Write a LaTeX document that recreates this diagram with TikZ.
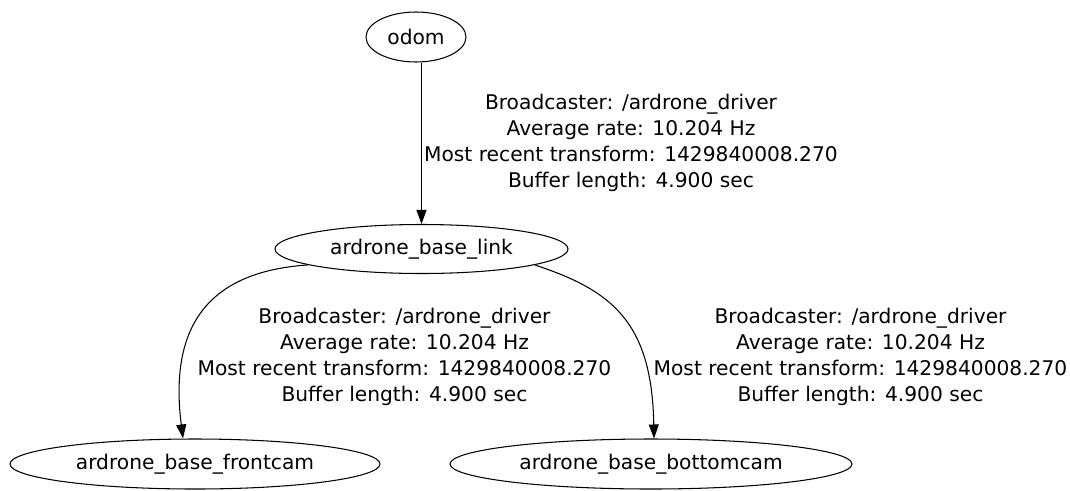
\documentclass[tikz,border=0pt]{standalone}
\usepackage{fontspec}
\setmainfont{DejaVu Sans}
\usetikzlibrary{shapes.geometric,arrows.meta}

\begin{document}
\begin{tikzpicture}[
  frame/.style={draw,ellipse,line width=0.6pt,inner sep=0pt,minimum height=1cm,font=\fontsize{11.5}{14}\selectfont},
  tfedge/.style={-{Triangle[length=0.28cm,width=0.2cm]},line width=0.6pt},
  tfinfo/.style={align=center,inner sep=0pt,font=\fontsize{11.5}{14.7}\selectfont}]
\useasboundingbox (0,0) rectangle (21.4,9.8);
\node[frame,minimum width=2cm] (odom) at (8.32,9.06) {odom};
\node[frame,minimum width=5.86cm,minimum height=0.98cm] (link) at (8.43,4.82) {ardrone\_base\_link};
\node[frame,minimum width=7.4cm] (front) at (3.9,0.52) {ardrone\_base\_frontcam};
\node[frame,minimum width=8.04cm] (bottom) at (13.02,0.52) {ardrone\_base\_bottomcam};

\node[tfinfo] (info1) at (12.62,6.94) {Broadcaster: /ardrone\_driver\\Average rate: 10.204 Hz\\Most recent transform: 1429840008.270\\Buffer length: 4.900 sec};
\node[tfinfo] (info2) at (8.09,2.66) {Broadcaster: /ardrone\_driver\\Average rate: 10.204 Hz\\Most recent transform: 1429840008.270\\Buffer length: 4.900 sec};
\node[tfinfo] (info3) at (17.21,2.66) {Broadcaster: /ardrone\_driver\\Average rate: 10.204 Hz\\Most recent transform: 1429840008.270\\Buffer length: 4.900 sec};

\draw[tfedge] (odom.south -| link.north) -- (link.north);
\draw[tfedge] (link.188) .. controls (4.0,4.36) and (3.4,3.1) .. ([xshift=-0.24cm]front.north);
\draw[tfedge] (link.-8) .. controls (12.2,4.0) and (13.04,3.4) .. ([xshift=0.06cm]bottom.north);
\end{tikzpicture}
\end{document}
